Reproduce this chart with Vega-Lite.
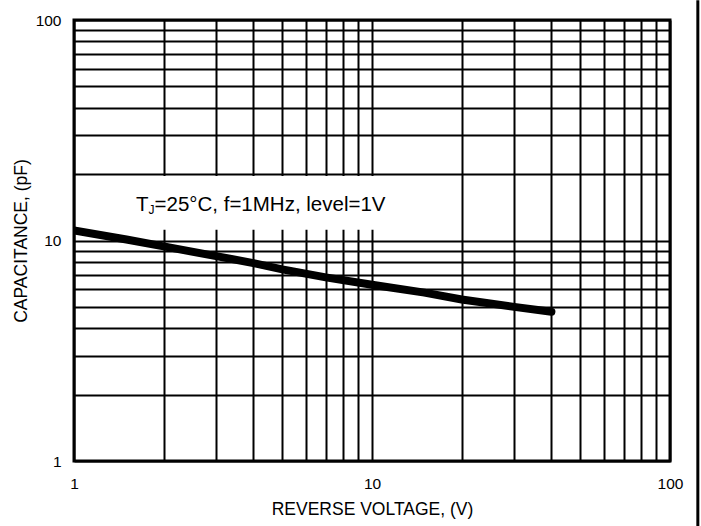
{
  "$schema": "https://vega.github.io/schema/vega-lite/v6.json",
  "width": 596,
  "height": 441,
  "autosize": "none",
  "padding": {"left": 74, "top": 20, "right": 31, "bottom": 65},
  "background": "white",
  "config": {
    "view": {"stroke": "black", "strokeWidth": 3},
    "font": "Liberation Sans",
    "axis": {
      "grid": true,
      "gridColor": "black",
      "gridWidth": 2,
      "gridOpacity": 1,
      "ticks": false,
      "domain": false,
      "labelFlush": false,
      "labelOverlap": false,
      "labelFont": "Liberation Sans",
      "labelFontSize": 15.5,
      "labelColor": "black",
      "titleFont": "Liberation Sans",
      "titleFontSize": 17.5,
      "titleFontWeight": "normal",
      "titleColor": "black"
    }
  },
  "datasets": {
    "curve": [
      {"v": 1, "c": 11.1},
      {"v": 1.5, "c": 10.1},
      {"v": 2, "c": 9.4},
      {"v": 3, "c": 8.5},
      {"v": 4, "c": 7.9},
      {"v": 5, "c": 7.4},
      {"v": 7, "c": 6.8},
      {"v": 10, "c": 6.3},
      {"v": 15, "c": 5.8},
      {"v": 20, "c": 5.4},
      {"v": 30, "c": 5.0},
      {"v": 40, "c": 4.75}
    ],
    "box": [{"x": 1.015, "x2": 14.5, "y": 11.2, "y2": 19.6}],
    "label": [{"x": 1.615, "y": 14.5, "t1": "T", "t2": "J", "t3": "=25°C, f=1MHz, level=1V"}],
    "frame": [{"x": 124, "y": 0.507, "y2": 123}]
  },
  "layer": [
    {
      "data": {"name": "box"},
      "mark": {"type": "rect", "fill": "white", "stroke": null},
      "encoding": {
        "x": {
          "field": "x", "type": "quantitative",
          "scale": {"type": "log", "domain": [1, 100], "nice": false},
          "axis": {
            "title": "REVERSE VOLTAGE, (V)",
            "values": [1, 2, 3, 4, 5, 6, 7, 8, 9, 10, 20, 30, 40, 50, 60, 70, 80, 90, 100],
            "labelExpr": "datum.value == 1 || datum.value == 10 || datum.value == 100 ? format(datum.value, 'd') : ''",
            "labelPadding": 15,
            "titlePadding": 9
          }
        },
        "x2": {"field": "x2"},
        "y": {
          "field": "y", "type": "quantitative",
          "scale": {"type": "log", "domain": [1, 100], "nice": false},
          "axis": {
            "title": "CAPACITANCE, (pF)",
            "values": [1, 2, 3, 4, 5, 6, 7, 8, 9, 10, 20, 30, 40, 50, 60, 70, 80, 90, 100],
            "labelExpr": "datum.value == 1 || datum.value == 10 || datum.value == 100 ? format(datum.value, 'd') : ''",
            "labelPadding": 13,
            "titlePadding": 5
          }
        },
        "y2": {"field": "y2"}
      }
    },
    {
      "data": {"name": "curve"},
      "mark": {"type": "line", "color": "black", "strokeWidth": 8, "strokeCap": "round", "clip": true},
      "encoding": {
        "x": {"field": "v", "type": "quantitative"},
        "y": {"field": "c", "type": "quantitative"}
      }
    },
    {
      "data": {"name": "label"},
      "mark": {"type": "text", "align": "left", "baseline": "middle", "fontSize": 20.5, "color": "black", "font": "Liberation Sans"},
      "encoding": {
        "x": {"field": "x", "type": "quantitative"},
        "y": {"field": "y", "type": "quantitative"},
        "text": {"field": "t1"}
      }
    },
    {
      "data": {"name": "label"},
      "mark": {"type": "text", "align": "left", "baseline": "middle", "fontSize": 12, "dx": 12.5, "dy": 5, "color": "black", "font": "Liberation Sans"},
      "encoding": {
        "x": {"field": "x", "type": "quantitative"},
        "y": {"field": "y", "type": "quantitative"},
        "text": {"field": "t2"}
      }
    },
    {
      "data": {"name": "label"},
      "mark": {"type": "text", "align": "left", "baseline": "middle", "fontSize": 20.5, "dx": 18.5, "color": "black", "font": "Liberation Sans"},
      "encoding": {
        "x": {"field": "x", "type": "quantitative"},
        "y": {"field": "y", "type": "quantitative"},
        "text": {"field": "t3"}
      }
    },
    {
      "data": {"name": "frame"},
      "mark": {"type": "rule", "color": "black", "strokeWidth": 3, "clip": false},
      "encoding": {
        "x": {"field": "x", "type": "quantitative"},
        "y": {"field": "y", "type": "quantitative"},
        "y2": {"field": "y2"}
      }
    }
  ]
}
